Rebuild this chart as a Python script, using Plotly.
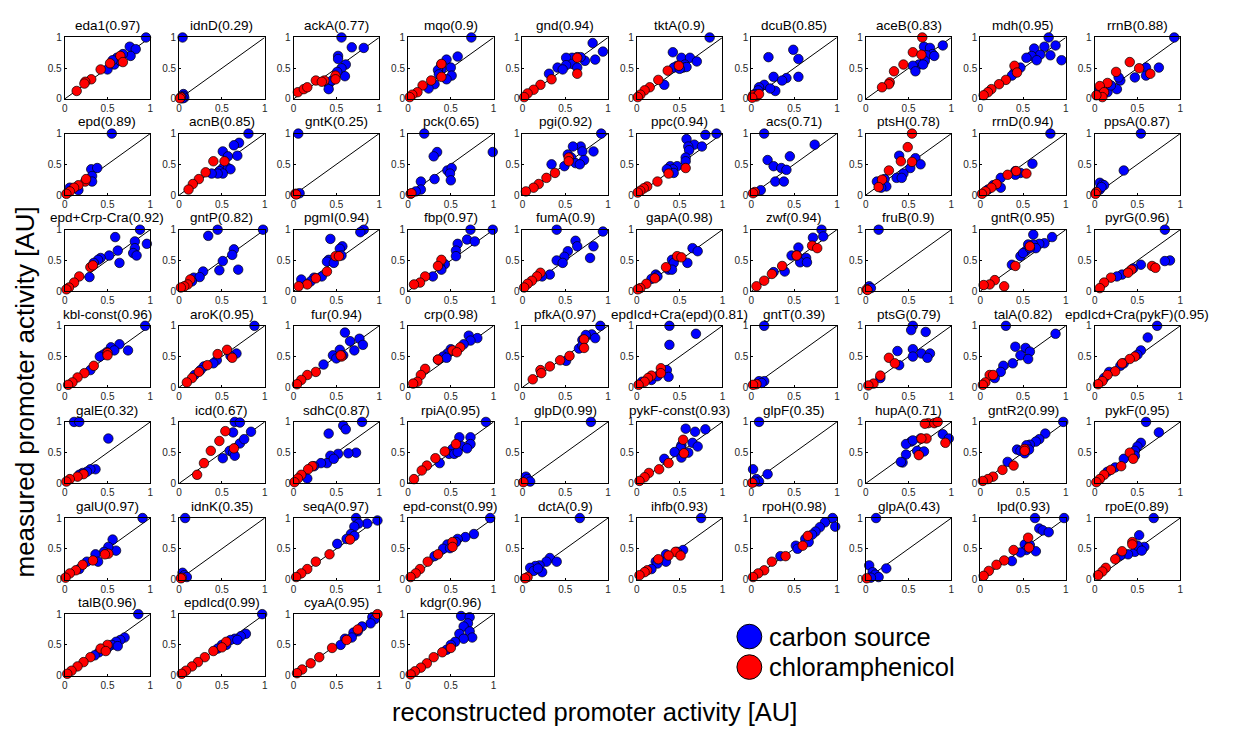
import plotly.graph_objects as go

# ---------------- data ----------------
gene_names = [
    "eda1", "idnD", "ackA", "mqo", "gnd", "tktA", "dcuB", "aceB", "mdh", "rrnB",
    "epd", "acnB", "gntK", "pck", "pgi", "ppc", "acs", "ptsH", "rrnD", "ppsA",
    "epd+Crp-Cra", "gntP", "pgmI", "fbp", "fumA", "gapA", "zwf", "fruB", "gntR", "pyrG",
    "kbl-const", "aroK", "fur", "crp", "pfkA", "epdIcd+Cra(epd)", "gntT", "ptsG", "talA", "epdIcd+Cra(pykF)",
    "galE", "icd", "sdhC", "rpiA", "glpD", "pykF-const", "glpF", "hupA", "gntR2", "pykF",
    "galU", "idnK", "seqA", "epd-const", "dctA", "ihfb", "rpoH", "glpA", "lpd", "rpoE",
    "talB", "epdIcd", "cyaA", "kdgr",
]
r_values = [
    "0.97", "0.29", "0.77", "0.9", "0.94", "0.9", "0.85", "0.83", "0.95", "0.88",
    "0.89", "0.85", "0.25", "0.65", "0.92", "0.94", "0.71", "0.78", "0.94", "0.87",
    "0.92", "0.82", "0.94", "0.97", "0.9", "0.98", "0.94", "0.9", "0.95", "0.96",
    "0.96", "0.95", "0.94", "0.98", "0.97", "0.81", "0.39", "0.79", "0.82", "0.95",
    "0.32", "0.67", "0.87", "0.95", "0.99", "0.93", "0.35", "0.71", "0.99", "0.95",
    "0.97", "0.35", "0.97", "0.99", "0.9", "0.93", "0.98", "0.43", "0.93", "0.89",
    "0.96", "0.99", "0.95", "0.96",
]

# (reconstructed, measured) pairs per panel, carbon source condition
carbon_points = [
    [(0.95,1.0),(0.76,0.85),(0.83,0.81),(0.77,0.70),(0.68,0.73),(0.61,0.67),(0.58,0.56),(0.50,0.48),(0.65,0.62),(0.56,0.63)],
    [(0.04,1.0),(0.05,0.08),(0.05,0.05),(0.03,0.03),(0.06,0.02),(0.04,0.01)],
    [(0.56,1.0),(0.82,0.83),(0.68,0.84),(0.52,0.70),(0.52,0.65),(0.61,0.56),(0.56,0.50),(0.60,0.37),(0.51,0.44),(0.41,0.24),(0.41,0.16),(0.45,0.30)],
    [(0.74,1.0),(0.58,0.69),(0.45,0.64),(0.39,0.56),(0.50,0.51),(0.39,0.48),(0.35,0.47),(0.51,0.38),(0.45,0.32),(0.31,0.24),(0.24,0.17),(0.36,0.40)],
    [(0.82,0.91),(0.94,0.77),(0.85,0.64),(0.73,0.62),(0.64,0.68),(0.58,0.67),(0.51,0.67),(0.58,0.57),(0.64,0.51),(0.51,0.55),(0.41,0.51),(0.31,0.41),(0.47,0.48),(0.68,0.68)],
    [(0.85,1.0),(0.42,0.76),(0.52,0.67),(0.62,0.67),(0.70,0.61),(0.56,0.56),(0.47,0.54),(0.43,0.51),(0.54,0.51),(0.58,0.52),(0.32,0.23),(0.50,0.49)],
    [(0.49,0.80),(0.55,0.65),(0.20,0.68),(0.26,0.36),(0.41,0.34),(0.36,0.30),(0.55,0.36),(0.28,0.13),(0.15,0.23),(0.22,0.17),(0.09,0.19),(0.08,0.14),(0.04,0.08)],
    [(0.90,0.87),(0.68,0.85),(0.75,0.83),(0.78,0.73),(0.71,0.71),(0.80,0.70),(0.69,0.62),(0.62,0.56),(0.55,0.54),(0.58,0.45),(0.67,0.56)],
    [(0.80,1.0),(0.88,0.87),(0.75,0.85),(0.63,0.82),(0.82,0.71),(0.70,0.72),(0.60,0.70),(0.54,0.67),(0.66,0.63),(0.95,0.63),(0.47,0.51),(0.40,0.43),(0.37,0.38)],
    [(0.93,1.0),(0.75,0.51),(0.60,0.51),(0.60,0.38),(0.47,0.35),(0.30,0.30),(0.26,0.16),(0.15,0.11),(0.19,0.22),(0.06,0.16),(0.28,0.35)],
    [(0.55,1.0),(0.31,0.42),(0.38,0.44),(0.32,0.31),(0.32,0.22),(0.16,0.08),(0.06,0.12)],
    [(0.81,1.0),(0.70,0.85),(0.64,0.81),(0.68,0.64),(0.51,0.71),(0.57,0.63),(0.51,0.44),(0.57,0.44),(0.47,0.39),(0.60,0.42),(0.51,0.35),(0.45,0.35),(0.38,0.35)],
    [(0.055,1.0),(0.04,0.02),(0.07,0.03)],
    [(0.19,1.0),(0.99,0.70),(0.34,0.70),(0.30,0.63),(0.46,0.40),(0.51,0.44),(0.49,0.35),(0.50,0.24),(0.31,0.26),(0.15,0.22),(0.15,0.09),(0.09,0.06)],
    [(0.92,1.0),(0.68,0.79),(0.59,0.79),(0.83,0.71),(0.70,0.71),(0.53,0.66),(0.57,0.61),(0.72,0.57),(0.62,0.52),(0.67,0.50),(0.34,0.50),(0.49,0.47)],
    [(0.93,1.0),(0.80,0.98),(0.58,0.91),(0.67,0.82),(0.76,0.79),(0.60,0.79),(0.61,0.73),(0.57,0.61),(0.57,0.55),(0.39,0.47),(0.47,0.47),(0.42,0.42),(0.43,0.36),(0.35,0.42)],
    [(0.15,1.0),(0.74,0.82),(0.45,0.63),(0.19,0.57),(0.26,0.47),(0.35,0.44),(0.41,0.41),(0.28,0.22),(0.38,0.22),(0.11,0.08)],
    [(0.39,0.64),(0.58,0.60),(0.64,0.50),(0.52,0.44),(0.44,0.35),(0.36,0.28),(0.42,0.28),(0.13,0.22),(0.22,0.26),(0.24,0.14),(0.18,0.12)],
    [(0.82,1.0),(0.61,0.51),(0.47,0.36),(0.41,0.39),(0.41,0.33),(0.24,0.28),(0.24,0.12),(0.15,0.16),(0.09,0.09)],
    [(0.54,1.0),(0.34,0.40),(0.06,0.20),(0.09,0.17),(0.11,0.16),(0.06,0.09),(0.08,0.13)],
    [(0.88,1.0),(0.59,0.88),(0.82,0.81),(0.82,0.70),(0.96,0.77),(0.62,0.66),(0.80,0.62),(0.84,0.58),(0.64,0.46),(0.52,0.58),(0.42,0.54),(0.39,0.51),(0.34,0.46),(0.29,0.23)],
    [(0.98,1.0),(0.45,1.0),(0.34,0.90),(0.64,0.68),(0.62,0.59),(0.51,0.49),(0.47,0.34),(0.69,0.35),(0.28,0.32),(0.17,0.22),(0.24,0.23),(0.15,0.16)],
    [(0.82,1.0),(0.78,0.96),(0.57,0.73),(0.54,0.69),(0.43,0.85),(0.41,0.51),(0.39,0.48),(0.56,0.58),(0.47,0.46),(0.33,0.24),(0.24,0.22),(0.20,0.16),(0.09,0.19)],
    [(0.73,1.0),(0.99,1.0),(0.69,0.84),(0.78,0.81),(0.58,0.77),(0.56,0.66),(0.56,0.57),(0.43,0.44),(0.37,0.41),(0.39,0.35),(0.29,0.24)],
    [(0.94,0.97),(0.40,1.0),(0.62,0.82),(0.64,0.73),(0.83,0.73),(0.79,0.54),(0.53,0.65),(0.49,0.56),(0.40,0.50),(0.47,0.46),(0.32,0.27),(0.23,0.24)],
    [(0.65,0.70),(0.71,0.65),(0.59,0.46),(0.41,0.51),(0.43,0.46),(0.37,0.35),(0.41,0.35),(0.22,0.27),(0.24,0.24),(0.17,0.20)],
    [(0.82,1.0),(0.84,0.89),(0.72,0.87),(0.55,0.71),(0.47,0.58),(0.53,0.58),(0.64,0.54),(0.57,0.47),(0.65,0.47),(0.39,0.32),(0.26,0.31)],
    [(0.15,1.0),(0.04,0.08),(0.06,0.05)],
    [(0.62,0.92),(0.84,0.88),(0.75,0.78),(0.69,0.77),(0.62,0.76),(0.56,0.76),(0.53,0.65),(0.47,0.57),(0.37,0.43),(0.50,0.62),(0.65,0.70),(0.58,0.70)],
    [(0.82,1.0),(0.88,0.50),(0.82,0.49),(0.54,0.43),(0.45,0.37),(0.32,0.27),(0.26,0.24)],
    [(0.94,1.0),(0.64,0.70),(0.74,0.60),(0.54,0.65),(0.58,0.60),(0.49,0.57),(0.45,0.53),(0.41,0.50),(0.30,0.28)],
    [(0.88,1.0),(0.67,0.55),(0.60,0.51),(0.44,0.44),(0.40,0.39),(0.29,0.34),(0.25,0.28),(0.18,0.20)],
    [(0.60,0.89),(0.66,0.75),(0.77,0.79),(0.81,0.69),(0.71,0.60),(0.54,0.61),(0.58,0.52),(0.46,0.52),(0.50,0.47),(0.35,0.37)],
    [(0.71,0.84),(0.81,0.80),(0.73,0.76),(0.65,0.70),(0.50,0.62),(0.46,0.55),(0.41,0.50),(0.35,0.45),(0.45,0.48)],
    [(0.91,1.0),(0.81,0.86),(0.85,0.80),(0.74,0.85),(0.70,0.77),(0.66,0.63),(0.70,0.68),(0.51,0.43)],
    [(0.38,1.0),(0.69,0.87),(0.38,0.69),(0.35,0.28),(0.37,0.17),(0.17,0.12),(0.06,0.09),(0.24,0.18)],
    [(0.15,1.0),(0.15,0.10),(0.09,0.10),(0.12,0.07)],
    [(0.55,1.0),(0.53,0.93),(0.70,0.90),(0.37,0.59),(0.55,0.62),(0.65,0.55),(0.75,0.55),(0.72,0.48),(0.55,0.50),(0.39,0.36),(0.17,0.15)],
    [(0.30,1.0),(0.88,0.87),(0.53,0.64),(0.58,0.58),(0.41,0.66),(0.47,0.52),(0.56,0.46),(0.38,0.39),(0.27,0.35),(0.24,0.25),(0.17,0.15)],
    [(0.73,1.0),(0.62,0.81),(0.54,0.60),(0.50,0.53),(0.34,0.39),(0.30,0.35),(0.17,0.25),(0.11,0.15)],
    [(0.11,1.0),(0.17,1.0),(0.51,0.73),(0.36,0.23),(0.30,0.23),(0.26,0.19),(0.21,0.17),(0.17,0.14)],
    [(0.65,1.0),(0.71,0.99),(0.84,0.84),(0.63,0.83),(0.71,0.65),(0.59,0.53),(0.63,0.50),(0.65,0.45),(0.51,0.41),(0.76,0.72)],
    [(0.80,1.0),(0.58,0.94),(0.61,0.88),(0.41,0.81),(0.73,0.50),(0.64,0.49),(0.52,0.48),(0.43,0.45),(0.39,0.33),(0.32,0.33),(0.24,0.28),(0.16,0.08),(0.47,0.40)],
    [(0.91,1.0),(0.73,0.75),(0.60,0.75),(0.73,0.64),(0.62,0.61),(0.52,0.56),(0.48,0.48),(0.54,0.48),(0.58,0.51),(0.69,0.57),(0.37,0.33)],
    [(0.80,1.0),(0.04,0.11),(0.06,0.07),(0.09,0.03)],
    [(0.57,0.89),(0.80,0.88),(0.68,0.84),(0.65,0.66),(0.71,0.60),(0.52,0.62),(0.51,0.58),(0.44,0.51),(0.52,0.42),(0.60,0.50),(0.32,0.40)],
    [(0.09,1.0),(0.02,0.23),(0.19,0.15),(0.06,0.07),(0.09,0.03),(0.04,0.03)],
    [(0.90,0.80),(0.97,0.73),(0.53,0.68),(0.47,0.64),(0.60,0.53),(0.68,0.52),(0.47,0.47),(0.43,0.34),(0.41,0.35),(0.64,0.73),(0.55,0.70)],
    [(0.97,1.0),(0.76,0.81),(0.69,0.72),(0.65,0.68),(0.58,0.63),(0.54,0.62),(0.43,0.55),(0.47,0.53),(0.32,0.35),(0.52,0.49),(0.57,0.55)],
    [(0.60,1.0),(0.75,0.83),(0.54,0.66),(0.50,0.60),(0.47,0.53),(0.34,0.40),(0.47,0.45),(0.24,0.26),(0.15,0.19)],
    [(0.91,1.0),(0.56,0.65),(0.60,0.47),(0.51,0.53),(0.46,0.45),(0.36,0.41),(0.39,0.29),(0.26,0.29),(0.17,0.17)],
    [(0.07,1.0),(0.04,0.11),(0.06,0.07),(0.09,0.04)],
    [(0.73,1.0),(0.98,0.96),(0.86,0.91),(0.76,0.91),(0.71,0.86),(0.67,0.74),(0.71,0.71),(0.62,0.66),(0.51,0.58)],
    [(0.96,1.0),(0.77,0.74),(0.67,0.69),(0.58,0.66),(0.56,0.61),(0.46,0.57),(0.41,0.50),(0.31,0.38),(0.49,0.51)],
    [(0.67,1.0),(0.32,0.35),(0.40,0.29),(0.28,0.29),(0.20,0.23),(0.15,0.22),(0.09,0.19),(0.23,0.12),(0.13,0.14),(0.18,0.18)],
    [(0.75,1.0),(0.54,0.48),(0.47,0.45),(0.34,0.41),(0.34,0.29),(0.22,0.29),(0.24,0.26),(0.17,0.17)],
    [(0.95,1.0),(0.98,0.86),(0.86,0.93),(0.80,0.85),(0.75,0.78),(0.71,0.73),(0.63,0.66),(0.52,0.55),(0.54,0.50),(0.67,0.61),(0.34,0.38)],
    [(0.12,1.0),(0.04,0.23),(0.24,0.18),(0.08,0.12),(0.11,0.08),(0.15,0.04),(0.06,0.03)],
    [(0.64,1.0),(0.98,1.0),(0.69,0.83),(0.73,0.80),(0.80,0.77),(0.65,0.46),(0.52,0.57),(0.58,0.56),(0.54,0.48),(0.47,0.44),(0.37,0.30)],
    [(0.69,1.0),(0.52,0.72),(0.58,0.53),(0.52,0.50),(0.47,0.45),(0.39,0.41),(0.30,0.39),(0.50,0.55),(0.55,0.47)],
    [(0.86,1.0),(0.70,0.62),(0.65,0.58),(0.60,0.55),(0.55,0.50),(0.50,0.45),(0.45,0.42),(0.62,0.48),(0.40,0.38),(0.35,0.33)],
    [(0.97,1.0),(0.78,0.68),(0.72,0.64),(0.65,0.60),(0.60,0.58),(0.55,0.50),(0.50,0.50),(0.45,0.44),(0.68,0.58)],
    [(0.92,0.95),(0.95,0.92),(0.90,0.85),(0.80,0.80),(0.75,0.72),(0.70,0.70),(0.60,0.60),(0.55,0.50),(0.68,0.62)],
    [(0.62,0.97),(0.72,0.95),(0.70,0.85),(0.65,0.80),(0.72,0.72),(0.60,0.68),(0.75,0.62),(0.65,0.60),(0.55,0.55),(0.50,0.50),(0.45,0.42)],
]

# (reconstructed, measured) pairs per panel, chloramphenicol condition
chloramphenicol_points = [
    [(0.65,0.70),(0.68,0.60),(0.53,0.58),(0.42,0.48),(0.31,0.32),(0.24,0.28),(0.23,0.25),(0.14,0.13)],
    [(0.02,0.03),(0.01,0.01)],
    [(0.05,0.11),(0.12,0.16),(0.16,0.19),(0.26,0.30),(0.36,0.30),(0.49,0.38),(0.49,0.32),(0.33,0.28)],
    [(0.39,0.57),(0.39,0.36),(0.27,0.30),(0.17,0.22),(0.11,0.11),(0.05,0.07),(0.02,0.03)],
    [(0.64,0.67),(0.64,0.41),(0.34,0.32),(0.21,0.23),(0.13,0.15),(0.06,0.09),(0.02,0.03)],
    [(0.49,0.54),(0.36,0.46),(0.25,0.31),(0.15,0.19),(0.09,0.14),(0.04,0.07),(0.01,0.03)],
    [(0.02,0.06),(0.06,0.04),(0.09,0.08),(0.01,0.02)],
    [(0.66,1.0),(0.55,0.76),(0.65,0.72),(0.44,0.56),(0.33,0.45),(0.28,0.27),(0.27,0.24),(0.19,0.19)],
    [(0.40,0.54),(0.43,0.43),(0.30,0.31),(0.22,0.24),(0.13,0.16),(0.09,0.11),(0.04,0.06)],
    [(0.41,0.60),(0.52,0.50),(0.65,0.41),(0.25,0.44),(0.15,0.26),(0.06,0.21),(0.11,0.11),(0.09,0.03),(0.02,0.06)],
    [(0.24,0.22),(0.25,0.26),(0.16,0.16),(0.11,0.12),(0.06,0.06),(0.02,0.02)],
    [(0.40,0.55),(0.53,0.55),(0.31,0.37),(0.23,0.26),(0.16,0.18),(0.11,0.09)],
    [(0.02,0.02),(0.03,0.01)],
    [(0.03,0.02),(0.04,0.03)],
    [(0.54,0.61),(0.54,0.55),(0.38,0.36),(0.28,0.28),(0.19,0.18),(0.13,0.12),(0.04,0.06)],
    [(0.57,0.44),(0.37,0.35),(0.24,0.22),(0.12,0.14),(0.08,0.11),(0.04,0.07),(0.01,0.04)],
    [(0.04,0.05),(0.02,0.03)],
    [(0.54,1.0),(0.49,0.78),(0.41,0.55),(0.54,0.54),(0.27,0.40),(0.19,0.25),(0.15,0.13)],
    [(0.54,0.35),(0.42,0.39),(0.32,0.33),(0.19,0.18),(0.13,0.12),(0.06,0.06),(0.02,0.02)],
    [(0.02,0.05),(0.01,0.02)],
    [(0.30,0.39),(0.33,0.42),(0.17,0.24),(0.11,0.14),(0.05,0.06),(0.02,0.03)],
    [(0.13,0.19),(0.10,0.11),(0.06,0.08),(0.02,0.06)],
    [(0.49,0.57),(0.53,0.57),(0.39,0.32),(0.26,0.21),(0.16,0.11),(0.06,0.08)],
    [(0.39,0.51),(0.35,0.41),(0.20,0.24),(0.14,0.14),(0.07,0.11)],
    [(0.21,0.30),(0.17,0.24),(0.11,0.17),(0.06,0.12),(0.02,0.06)],
    [(0.34,0.39),(0.47,0.57),(0.52,0.55),(0.21,0.21),(0.11,0.12),(0.04,0.05),(0.01,0.03)],
    [(0.71,0.74),(0.77,0.70),(0.53,0.58),(0.36,0.41),(0.24,0.28),(0.15,0.17),(0.06,0.08)],
    [(0.01,0.03),(0.02,0.02)],
    [(0.58,0.73),(0.41,0.41),(0.28,0.08),(0.17,0.18),(0.11,0.11),(0.04,0.10)],
    [(0.67,0.41),(0.71,0.38),(0.43,0.35),(0.39,0.30),(0.19,0.22),(0.11,0.14),(0.06,0.05)],
    [(0.50,0.56),(0.50,0.52),(0.34,0.35),(0.23,0.23),(0.15,0.16),(0.09,0.08),(0.04,0.04)],
    [(0.56,0.61),(0.62,0.48),(0.45,0.54),(0.33,0.36),(0.23,0.25),(0.15,0.15),(0.09,0.08)],
    [(0.56,0.50),(0.55,0.52),(0.26,0.25),(0.16,0.20),(0.09,0.12),(0.04,0.05)],
    [(0.52,0.60),(0.61,0.65),(0.57,0.57),(0.35,0.45),(0.20,0.30),(0.15,0.20),(0.11,0.09),(0.06,0.06)],
    [(0.72,0.78),(0.72,0.64),(0.55,0.51),(0.44,0.44),(0.32,0.34),(0.21,0.28),(0.22,0.23),(0.12,0.13)],
    [(0.28,0.31),(0.28,0.23),(0.17,0.19),(0.13,0.15),(0.09,0.09),(0.02,0.04)],
    [(0.06,0.05),(0.02,0.04)],
    [(0.27,0.48),(0.34,0.39),(0.17,0.19),(0.09,0.06),(0.03,0.03)],
    [(0.11,0.20),(0.15,0.20),(0.06,0.08),(0.03,0.04)],
    [(0.47,0.50),(0.41,0.46),(0.32,0.39),(0.24,0.26),(0.15,0.20),(0.09,0.10),(0.04,0.05)],
    [(0.22,0.15),(0.15,0.11),(0.06,0.07),(0.02,0.03)],
    [(0.54,0.85),(0.47,0.69),(0.37,0.53),(0.29,0.33),(0.21,0.14),(0.64,0.57)],
    [(0.22,0.28),(0.17,0.23),(0.09,0.14),(0.05,0.08),(0.01,0.02)],
    [(0.56,0.64),(0.43,0.52),(0.32,0.41),(0.22,0.29),(0.16,0.21),(0.07,0.07)],
    [(0.01,0.02)],
    [(0.54,0.71),(0.55,0.49),(0.37,0.33),(0.26,0.23),(0.14,0.17),(0.09,0.10),(0.03,0.04)],
    [(0.01,0.01)],
    [(0.73,0.98),(0.80,0.98),(0.84,1.0),(0.69,0.97),(0.93,0.66),(0.71,0.73),(0.65,0.73),(0.62,0.46)],
    [(0.52,0.56),(0.52,0.53),(0.39,0.29),(0.26,0.22),(0.15,0.11),(0.09,0.07),(0.03,0.04)],
    [(0.41,0.50),(0.45,0.40),(0.31,0.28),(0.19,0.22),(0.11,0.14),(0.06,0.07),(0.02,0.02)],
    [(0.51,0.42),(0.47,0.41),(0.33,0.31),(0.21,0.24),(0.13,0.15),(0.06,0.10),(0.01,0.03)],
    [(0.03,0.03),(0.02,0.02)],
    [(0.66,0.65),(0.42,0.41),(0.26,0.29),(0.16,0.17),(0.09,0.10),(0.03,0.04)],
    [(0.52,0.61),(0.52,0.53),(0.35,0.41),(0.23,0.29),(0.14,0.17),(0.09,0.10),(0.03,0.04)],
    [(0.06,0.04),(0.03,0.02)],
    [(0.45,0.45),(0.51,0.39),(0.37,0.39),(0.25,0.33),(0.12,0.15),(0.09,0.12),(0.03,0.07)],
    [(0.66,0.71),(0.60,0.55),(0.40,0.38),(0.24,0.29),(0.15,0.15),(0.08,0.10),(0.02,0.04)],
    [(0.01,0.02)],
    [(0.56,0.68),(0.57,0.52),(0.39,0.48),(0.28,0.31),(0.19,0.24),(0.10,0.14),(0.04,0.06)],
    [(0.44,0.61),(0.44,0.57),(0.32,0.46),(0.24,0.33),(0.13,0.19),(0.09,0.13),(0.04,0.07)],
    [(0.50,0.50),(0.42,0.44),(0.30,0.30),(0.22,0.22),(0.15,0.15),(0.08,0.08),(0.03,0.03),(0.48,0.40)],
    [(0.55,0.55),(0.40,0.40),(0.30,0.30),(0.22,0.22),(0.15,0.15),(0.08,0.08),(0.03,0.03),(0.50,0.46)],
    [(0.98,1.0),(0.75,0.75),(0.62,0.58),(0.45,0.45),(0.30,0.30),(0.20,0.20),(0.10,0.10),(0.04,0.04)],
    [(0.40,0.38),(0.30,0.30),(0.22,0.20),(0.15,0.13),(0.08,0.07),(0.03,0.02),(0.50,0.45)],
]

axis_ticks = [0, 0.5, 1]
axis_tick_labels = ["0", "0.5", "1"]
legend_labels = ["carbon source", "chloramphenicol"]

# ---------------- layout / style ----------------
W, H = 1234, 738
N_COLS = 10
COL_LEFT0, COL_STEP, BOX_W = 62.0, 115.0, 86.0
ROW_TOP0, ROW_STEP, BOX_H = 32.0, 97.7, 62.5
BLUE = "rgb(0,0,255)"
RED = "rgb(255,0,0)"
FONT = "Liberation Sans, Arial, Helvetica, sans-serif"

fig = go.Figure()
layout = dict(
    width=W, height=H,
    margin=dict(l=0, r=0, t=0, b=0),
    paper_bgcolor="white", plot_bgcolor="white",
    showlegend=False,
    font=dict(family=FONT, color="black"),
)
annotations = []

for i, name in enumerate(gene_names):
    row, col = divmod(i, N_COLS)
    left = COL_LEFT0 + COL_STEP * col
    top = ROW_TOP0 + ROW_STEP * row
    n = i + 1
    xs = "x" if n == 1 else f"x{n}"
    ys = "y" if n == 1 else f"y{n}"
    xk = "xaxis" if n == 1 else f"xaxis{n}"
    yk = "yaxis" if n == 1 else f"yaxis{n}"

    common = dict(
        range=[0, 1], tickmode="array", tickvals=axis_ticks, ticktext=axis_tick_labels,
        showline=True, mirror=True, linecolor="black", linewidth=1,
        showgrid=False, zeroline=False, ticks="inside", ticklen=2, tickcolor="black",
        tickfont=dict(size=10, color="#262626", family=FONT), fixedrange=True,
    )
    layout[xk] = dict(domain=[left / W, (left + BOX_W) / W], anchor=ys, **common)
    layout[yk] = dict(domain=[1 - (top + BOX_H) / H, 1 - top / H], anchor=xs, **common)

    # identity line
    fig.add_trace(go.Scatter(x=axis_ticks[::2], y=axis_ticks[::2], mode="lines",
                             line=dict(color="black", width=1), xaxis=xs, yaxis=ys,
                             hoverinfo="skip"))
    cb = carbon_points[i]
    fig.add_trace(go.Scatter(x=[p[0] for p in cb], y=[p[1] for p in cb], mode="markers",
                             marker=dict(color=BLUE, size=9.5, line=dict(color="black", width=0.7)),
                             xaxis=xs, yaxis=ys, cliponaxis=False, name=legend_labels[0]))
    cm = chloramphenicol_points[i]
    fig.add_trace(go.Scatter(x=[p[0] for p in cm], y=[p[1] for p in cm], mode="markers",
                             marker=dict(color=RED, size=9.5, line=dict(color="black", width=0.7)),
                             xaxis=xs, yaxis=ys, cliponaxis=False, name=legend_labels[1]))

    annotations.append(dict(
        text=f"{name}({r_values[i]})", x=(left + BOX_W / 2) / W, y=1 - (top - 12) / H,
        xref="paper", yref="paper", xanchor="center", yanchor="middle",
        showarrow=False, font=dict(size=13.5, color="black", family=FONT)))

# axis titles
annotations.append(dict(text="measured promoter activity [AU]", x=22 / W, y=1 - 392 / H,
                        xref="paper", yref="paper", textangle=-90, showarrow=False,
                        xanchor="center", yanchor="middle",
                        font=dict(size=26, color="black", family=FONT)))
annotations.append(dict(text="reconstructed promoter activity [AU]", x=594 / W, y=1 - 718 / H,
                        xref="paper", yref="paper", showarrow=False,
                        xanchor="center", yanchor="middle",
                        font=dict(size=25.5, color="black", family=FONT)))

# legend (drawn manually for large glyphs)
shapes = []
for k, (lab, colr, py) in enumerate(zip(legend_labels, [BLUE, RED], [641, 672])):
    shapes.append(dict(type="circle", xref="paper", yref="paper",
                       x0=(750 - 12.5) / W, x1=(750 + 12.5) / W,
                       y0=1 - (py + 12.5) / H, y1=1 - (py - 12.5) / H,
                       fillcolor=colr, line=dict(color="black", width=1)))
    annotations.append(dict(text=lab, x=768 / W, y=1 - py / H, xref="paper", yref="paper",
                            xanchor="left", yanchor="middle", showarrow=False,
                            font=dict(size=25.5, color="black", family=FONT)))

layout["annotations"] = annotations
layout["shapes"] = shapes
fig.update_layout(**layout)
fig.write_html("out.html")
